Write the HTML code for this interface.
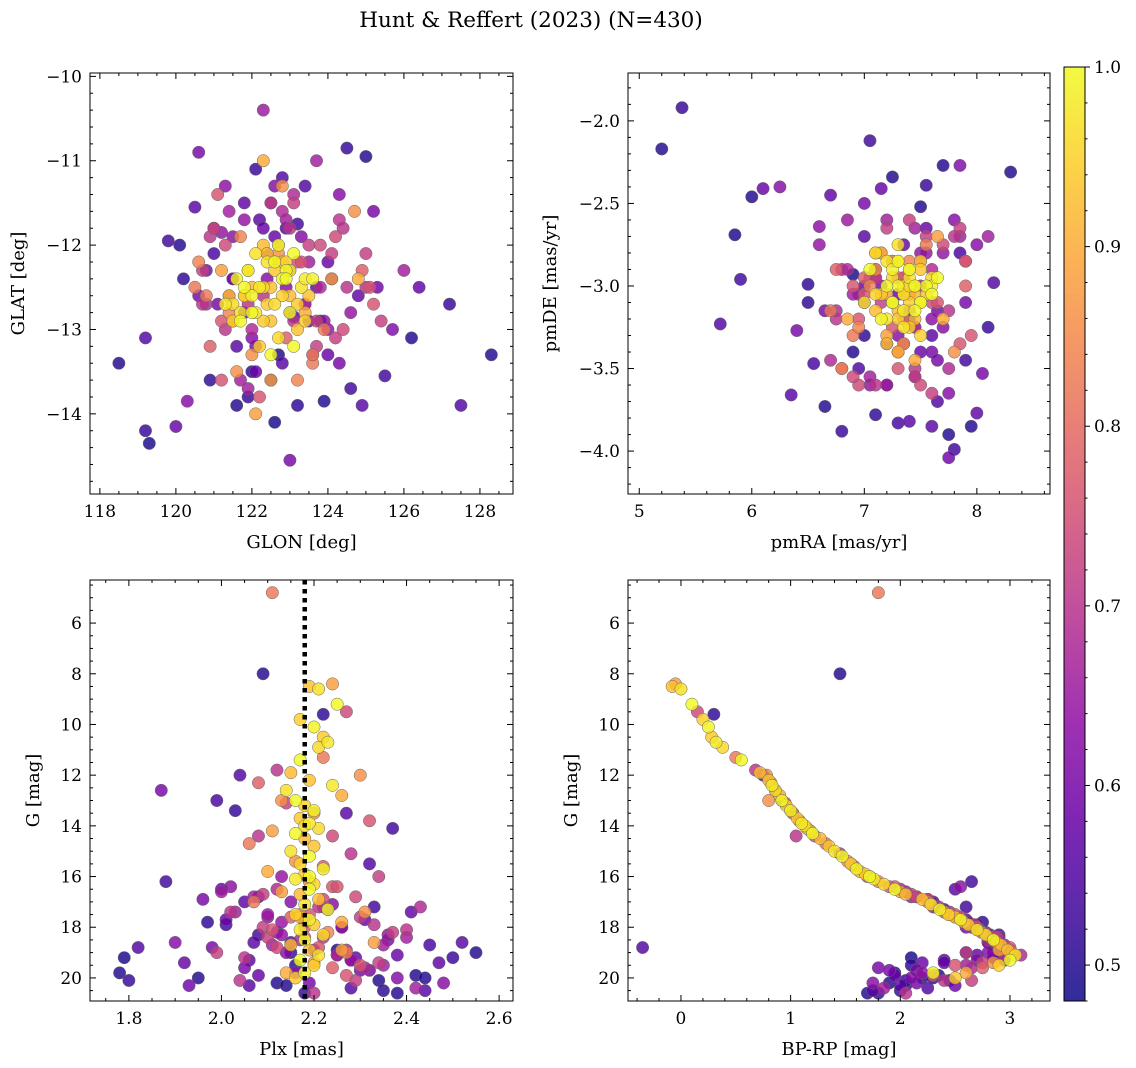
<!DOCTYPE html>
<html><head><meta charset="utf-8"><style>
body{margin:0;background:#fff}
svg{display:block;font-family:"DejaVu Serif","Liberation Serif",serif}
</style></head><body>
<svg id="fig" width="1136" height="1068" viewBox="0 0 1136 1068">
<text x="531" y="27" text-anchor="middle" font-size="21.5">Hunt &amp; Reffert (2023) (N=430)</text>
</svg>
<script>
// ---- data: high-probability members ----
const glonA=[122.5,122.1,123.0,121.8,122.9,122.3,123.4,121.5,122.7,122.0,123.2,122.4,121.7,122.8,123.6,122.2,121.9,122.6,123.1,121.4,122.5,123.3,122.0,122.9,121.6,122.4,123.0,122.7,121.8,122.3,123.5,122.1,122.6,121.5,122.8,123.2,122.2,121.9,122.5,123.0,122.4,121.7,122.9,123.4,122.0,122.6,121.3,122.3,123.1,122.8];
const glatA=[-12.5,-12.1,-12.8,-12.6,-12.3,-12.9,-12.4,-12.7,-12.0,-12.5,-13.0,-12.2,-12.9,-12.6,-12.4,-13.2,-12.3,-12.7,-12.1,-12.6,-12.9,-12.5,-12.8,-12.2,-12.4,-12.7,-12.3,-13.1,-12.5,-12.0,-12.6,-12.8,-12.2,-12.9,-12.4,-12.7,-12.5,-12.3,-13.3,-12.6,-12.1,-12.8,-12.4,-12.9,-12.6,-12.3,-12.7,-12.5,-13.2,-12.2];
const pmraA=[7.35,7.2,7.5,7.1,7.4,7.3,7.6,7.25,7.45,7.15,7.55,7.35,7.05,7.4,7.3,7.5,7.2,7.35,7.65,7.1,7.45,7.3,7.25,7.5,7.4,7.15,7.35,7.6,7.2,7.45,7.3,7.0,7.55,7.4,7.25,7.35,7.5,7.1,7.45,7.3,7.2,7.4,7.6,7.35,7.15,7.5,7.25,7.4,7.3,7.45];
const pmdeA=[-3.0,-2.85,-3.1,-3.05,-2.9,-3.2,-3.0,-2.95,-3.15,-2.8,-3.05,-3.25,-2.9,-3.1,-3.0,-2.85,-3.2,-3.05,-2.95,-3.15,-3.0,-2.75,-3.1,-3.3,-2.9,-3.05,-3.15,-2.95,-3.0,-3.2,-2.85,-3.1,-3.0,-3.25,-2.9,-3.05,-3.1,-2.8,-3.0,-3.15,-3.35,-2.95,-3.05,-3.0,-3.2,-2.9,-3.1,-3.0,-2.85,-3.05];
const plxA=[2.19,2.21,2.25,2.17,2.20,2.22,2.23,2.21,2.17,2.15,2.19,2.14,2.16,2.18,2.20,2.17,2.19,2.21,2.16,2.18,2.20,2.15,2.19,2.17,2.22,2.18,2.16,2.20,2.19,2.17,2.21,2.18,2.23,2.16,2.19,2.20,2.17,2.22,2.18,2.15,2.19,2.21,2.17,2.20,2.18,2.16,2.24,2.18,2.19,2.17];
const gA=[8.5,8.6,9.2,9.8,10.1,10.5,10.7,10.9,11.4,11.9,12.2,12.6,13.0,13.2,13.4,13.7,13.9,14.1,14.3,14.5,14.8,15.0,15.2,15.5,15.7,15.9,16.1,16.3,16.5,16.7,16.9,17.1,17.3,17.5,17.7,17.9,18.1,18.3,18.5,18.7,18.9,19.1,19.3,19.5,19.8,20.0,12.4,14.0,16.0,17.6];
const bprpA=[-0.08,0.0,0.1,0.2,0.25,0.28,0.32,0.38,0.55,0.72,0.8,0.86,0.92,0.96,1.0,1.06,1.1,1.15,1.2,1.27,1.35,1.4,1.47,1.55,1.6,1.68,1.76,1.85,1.95,2.05,2.2,2.28,2.36,2.44,2.55,2.62,2.7,2.78,2.85,2.92,2.98,3.05,3.0,2.9,2.3,2.5,0.83,1.13,1.72,2.5];
const probA=[0.93,0.97,1.0,0.95,0.99,0.94,0.98,0.96,1.0,0.92,0.93,0.97,1.0,0.95,0.99,0.94,0.98,0.96,1.0,0.92,0.93,0.97,1.0,0.95,0.99,0.94,0.98,0.96,1.0,0.92,0.93,0.97,1.0,0.95,0.99,0.94,0.98,0.96,1.0,0.92,0.93,0.97,1.0,0.95,0.99,0.94,0.98,0.96,1.0,0.92];
// ---- data: intermediate-probability members ----
const glonB=[121.2,123.8,120.8,124.3,122.0,121.5,124.8,123.1,120.6,125.2,122.5,121.0,123.9,124.5,122.8,120.9,123.4,125.0,121.7,122.2,124.1,121.3,123.6,120.7,124.7,122.9,121.8,125.4,123.2,121.1,122.6,124.4,120.5,123.0,121.6,124.9,122.3,123.7,121.4,125.1,122.1,124.2,123.6,121.9,122.7];
const glatB=[-12.3,-12.0,-12.6,-11.7,-13.3,-12.9,-12.4,-11.5,-12.2,-12.7,-13.6,-11.8,-13.0,-12.5,-11.3,-13.2,-12.8,-12.1,-11.9,-13.8,-12.4,-12.0,-13.4,-12.7,-11.6,-13.1,-12.6,-12.9,-13.6,-11.4,-12.2,-13.0,-12.5,-11.8,-13.5,-12.3,-11.0,-13.2,-12.8,-12.5,-14.0,-11.9,-13.3,-12.7,-12.1];
const pmraB=[7.1,7.6,6.9,7.8,7.3,7.0,7.7,7.4,6.8,7.9,7.2,6.95,7.55,7.75,7.35,6.75,7.45,7.85,7.05,7.25,7.65,6.9,7.5,7.15,7.8,7.3,6.85,7.6,7.4,7.0,7.2,7.7,6.7,7.45,7.1,7.9,7.3,7.55,6.95,7.65,7.25,7.5,7.35,7.05,7.4];
const pmdeB=[-2.8,-3.1,-3.3,-2.7,-3.4,-2.95,-3.2,-2.6,-3.5,-2.85,-3.05,-3.6,-2.75,-3.15,-3.35,-2.9,-3.45,-2.65,-3.0,-3.25,-2.7,-3.55,-3.1,-2.8,-3.4,-2.95,-3.2,-3.65,-2.85,-3.05,-3.3,-2.75,-3.15,-3.5,-2.9,-3.0,-3.4,-2.7,-3.25,-3.1,-2.85,-3.6,-3.2,-2.95,-3.05];
const plxB=[2.24,2.27,2.22,2.12,2.30,2.08,2.26,2.14,2.20,2.32,2.11,2.24,2.06,2.28,2.16,2.22,2.10,2.34,2.19,2.25,2.13,2.29,2.07,2.21,2.31,2.15,2.26,2.09,2.23,2.18,2.33,2.12,2.27,2.05,2.20,2.24,2.14,2.29,2.17,2.11,2.26,2.22,2.11,2.08,2.13];
const gB=[8.4,9.5,11.3,11.8,12.0,12.3,12.8,13.1,13.5,13.8,14.2,14.4,14.7,15.1,15.4,15.6,15.8,16.0,16.2,16.4,16.6,16.8,17.0,17.2,17.4,17.6,17.8,18.0,18.2,18.4,18.6,18.8,19.0,19.2,19.4,19.6,19.8,20.1,17.5,18.1,18.9,16.9,4.8,14.4,13.0];
const bprpB=[-0.05,0.15,0.5,0.68,0.78,0.82,0.9,0.95,1.02,1.08,1.18,1.22,1.32,1.45,1.52,1.58,1.63,1.7,1.8,1.9,2.0,2.15,2.25,2.32,2.4,2.5,2.58,2.66,2.74,2.82,2.88,2.96,3.02,2.95,2.85,2.75,2.6,2.65,2.45,2.7,2.9,2.25,1.8,1.05,0.8];
const probB=[0.88,0.74,0.82,0.7,0.86,0.78,0.9,0.72,0.84,0.76,0.88,0.74,0.82,0.7,0.86,0.78,0.9,0.72,0.84,0.76,0.88,0.74,0.82,0.7,0.86,0.78,0.9,0.72,0.84,0.76,0.88,0.74,0.82,0.7,0.86,0.78,0.9,0.72,0.84,0.76,0.88,0.74,0.82,0.7,0.86];
// ---- data: low-probability members ----
const glonC=[118.5,119.2,119.2,119.3,119.8,120.0,120.1,120.3,120.5,120.6,120.9,121.0,121.3,121.6,121.8,122.1,122.3,122.6,122.8,123.0,123.2,123.2,123.5,123.7,123.9,124.1,124.3,124.5,124.9,125.0,125.3,125.5,125.7,126.2,126.4,127.2,127.5,128.3,121.2,122.0,122.9,123.8,124.6,125.2,120.8,121.9,123.4,124.0,122.5,121.5,123.1,124.8,120.2,126.0,122.7];
const glatC=[-13.4,-14.2,-13.1,-14.35,-11.95,-14.15,-12.0,-13.85,-11.55,-10.9,-13.6,-12.1,-11.3,-13.9,-11.5,-11.1,-10.4,-14.1,-11.2,-14.55,-11.75,-13.9,-12.9,-11.0,-13.85,-12.4,-11.4,-10.85,-13.9,-10.95,-12.5,-13.55,-13.0,-13.1,-12.5,-12.7,-13.9,-13.3,-11.85,-13.5,-11.8,-12.9,-13.7,-11.6,-12.7,-13.8,-11.3,-12.2,-13.6,-11.9,-12.85,-12.6,-12.4,-12.3,-13.3];
const pmraC=[5.2,5.38,5.72,5.85,5.9,6.1,6.0,6.25,6.35,6.4,6.5,6.55,6.6,6.65,6.7,6.8,6.85,6.9,6.95,7.0,7.05,7.1,7.15,7.2,7.25,7.3,7.45,7.55,7.6,7.7,7.75,7.8,7.85,7.95,8.0,8.1,8.15,8.3,6.6,7.0,7.4,7.5,7.9,8.05,6.75,7.1,7.65,7.3,6.9,7.6,7.85,7.2,6.5,7.45,7.75];
const pmdeC=[-2.17,-1.92,-3.23,-2.69,-2.96,-2.41,-2.46,-2.4,-3.66,-3.27,-2.99,-3.47,-2.64,-3.73,-2.45,-3.88,-2.6,-2.93,-3.5,-2.5,-2.12,-3.78,-2.41,-3.6,-2.34,-3.83,-3.55,-2.39,-3.85,-2.27,-4.04,-3.99,-2.27,-3.85,-3.77,-3.25,-2.98,-2.31,-2.75,-3.3,-3.82,-2.52,-3.45,-3.53,-3.15,-2.9,-3.7,-3.05,-3.4,-3.2,-2.8,-3.6,-3.1,-2.65,-3.9];
const plxC=[1.78,1.80,1.82,1.79,1.88,1.92,1.95,1.90,2.0,2.05,1.97,2.08,2.02,2.12,2.06,2.15,2.10,2.25,2.28,2.30,2.33,2.35,2.38,2.40,2.42,2.45,2.48,2.50,2.52,2.55,1.93,2.01,2.36,2.44,2.47,2.03,2.32,2.38,2.13,2.22,2.27,2.09,2.37,1.87,2.43,2.18,2.04,2.31,2.14,2.26,1.99,2.41,2.16,2.07,2.34];
const gC=[19.8,20.1,18.8,19.2,16.2,19.4,20.0,18.6,16.5,19.6,17.8,18.3,16.4,20.2,19.3,19.0,17.5,18.9,20.4,19.7,17.2,20.5,19.1,18.4,19.9,18.7,20.2,19.2,18.6,19.0,20.3,17.9,18.5,20.0,19.4,13.4,15.5,20.6,16.0,9.6,13.5,8.0,14.1,12.6,17.2,20.6,12.0,17.7,20.3,18.0,13.0,17.4,19.5,16.8,20.1];
const bprpC=[1.95,2.05,-0.35,2.1,2.65,2.2,2.3,2.8,2.5,1.8,2.75,2.9,2.55,1.9,2.4,2.85,2.45,2.95,2.25,2.15,2.6,2.0,2.7,2.9,2.35,2.85,1.75,2.95,2.8,2.6,2.5,2.7,2.85,2.2,2.4,1.0,1.55,1.7,1.72,0.3,1.02,1.45,1.15,0.86,2.3,1.8,0.75,2.55,2.05,2.65,0.92,2.4,2.1,2.1,2.45];
const probC=[0.5,0.52,0.55,0.49,0.53,0.58,0.5,0.62,0.56,0.6,0.51,0.54,0.63,0.5,0.57,0.52,0.65,0.49,0.55,0.6,0.53,0.51,0.58,0.66,0.5,0.54,0.62,0.52,0.56,0.5,0.59,0.53,0.61,0.5,0.57,0.52,0.55,0.5,0.64,0.51,0.56,0.5,0.53,0.6,0.68,0.52,0.55,0.58,0.5,0.63,0.54,0.57,0.51,0.66,0.5];
// ---- data: faint mid-probability members ----
const glonD=[121.0,121.5,122.0,122.5,123.0,123.5,124.0,121.2,121.8,122.3,122.8,123.3,123.8,124.2,120.8,121.4,122.1,122.7,123.4,124.4,121.6,122.4,123.1,123.7,120.6,121.9,122.6,123.2,124.6,121.3,122.2,122.9,123.6,124.1,121.1,121.7,122.5,123.0,123.9,120.9,121.5,122.0,122.8,123.5,124.3,121.4,122.3,123.3,124.0,125.0,121.8,122.6,123.4,120.7,122.1,122.9,123.7,121.2,122.4,123.1];
const glatD=[-11.8,-12.4,-13.0,-11.5,-12.8,-12.2,-13.3,-12.9,-11.7,-12.6,-13.4,-11.9,-12.5,-13.1,-12.3,-11.6,-13.5,-12.0,-12.7,-11.8,-13.2,-12.4,-11.4,-12.9,-12.6,-13.7,-11.9,-12.2,-12.8,-13.0,-11.7,-12.5,-13.3,-12.1,-12.7,-13.6,-11.5,-12.3,-12.9,-11.9,-12.4,-13.1,-11.6,-12.0,-13.4,-12.6,-11.8,-12.2,-13.0,-12.5,-12.8,-11.3,-12.7,-12.3,-13.2,-11.7,-12.5,-13.6,-12.1,-12.9];
const pmraD=[7.0,7.3,7.6,6.8,7.9,7.2,7.5,6.9,7.7,7.1,7.4,8.0,6.7,7.35,7.65,7.05,7.55,7.85,6.95,7.25,7.45,7.75,6.85,7.15,7.6,8.1,7.0,7.3,7.5,6.75,7.2,7.8,7.4,7.1,7.65,6.9,7.35,7.95,7.05,7.5,7.25,7.7,6.8,7.45,7.15,7.85,7.3,6.95,7.55,7.4,7.6,7.1,7.75,7.2,6.65,7.5,7.35,7.9,7.0,7.45];
const pmdeD=[-2.7,-3.3,-2.9,-3.5,-3.1,-2.6,-3.4,-3.0,-2.8,-3.6,-3.2,-2.75,-3.45,-2.95,-3.15,-3.55,-2.65,-3.35,-3.05,-2.85,-3.25,-3.65,-2.9,-3.1,-3.4,-2.7,-3.0,-3.5,-2.8,-3.2,-3.35,-2.6,-3.15,-2.95,-3.45,-3.05,-2.75,-3.3,-3.6,-2.85,-3.1,-3.25,-2.9,-3.55,-3.0,-2.7,-3.4,-3.2,-2.8,-3.05,-3.3,-2.95,-3.5,-2.65,-3.15,-3.0,-3.35,-2.85,-3.1,-3.25];
const plxD=[2.05,2.12,2.25,2.30,1.98,2.35,2.08,2.18,2.28,2.02,2.15,2.38,2.22,2.10,2.32,2.00,2.20,2.27,2.13,2.40,2.06,2.24,2.17,2.34,1.96,2.11,2.29,2.19,2.36,2.04,2.23,2.14,2.31,2.09,2.26,2.42,2.01,2.21,2.16,2.33,2.07,2.28,2.12,2.37,2.19,2.03,2.25,2.30,2.10,2.22,2.44,2.15,2.27,1.99,2.18,2.35,2.08,2.24,2.13,2.20];
const gD=[17.0,18.2,19.1,17.6,18.8,19.5,16.8,18.0,19.3,17.4,18.6,20.0,17.2,18.4,19.7,16.6,18.9,19.9,17.8,18.1,20.3,17.1,18.5,19.4,16.9,18.7,19.2,17.5,18.3,20.1,17.3,19.0,19.6,16.7,18.0,20.4,17.7,18.8,19.8,17.9,18.6,19.3,16.5,18.2,20.2,17.4,19.1,19.5,17.6,18.4,20.5,17.0,18.9,19.0,17.8,18.7,19.9,16.4,18.3,20.6];
const bprpD=[2.3,2.78,3.1,2.55,2.9,2.6,2.15,2.7,2.95,2.45,2.85,2.1,2.35,2.88,1.9,2.05,3.0,2.3,2.62,2.72,2.0,2.3,2.8,2.75,2.25,2.95,2.85,2.5,2.82,2.4,2.4,2.8,2.65,2.1,2.6,1.85,2.6,3.0,2.2,2.68,2.9,2.7,2.0,2.75,2.15,2.42,2.9,2.5,2.52,2.85,1.75,2.28,2.95,2.6,2.6,2.88,1.95,1.95,2.8,2.05];
const probD=[0.56,0.62,0.68,0.72,0.6,0.66,0.58,0.76,0.64,0.7,0.56,0.62,0.68,0.72,0.6,0.66,0.58,0.76,0.64,0.7,0.56,0.62,0.68,0.72,0.6,0.66,0.58,0.76,0.64,0.7,0.56,0.62,0.68,0.72,0.6,0.66,0.58,0.76,0.64,0.7,0.56,0.62,0.68,0.72,0.6,0.66,0.58,0.76,0.64,0.7,0.56,0.62,0.68,0.72,0.6,0.66,0.58,0.76,0.64,0.7];
const plxMean=2.18;
const cbTicks=[0.5,0.6,0.7,0.8,0.9,1.0];

const glon=glonC.concat(glonD,glonB,glonA), glat=glatC.concat(glatD,glatB,glatA);
const pmra=pmraC.concat(pmraD,pmraB,pmraA), pmde=pmdeC.concat(pmdeD,pmdeB,pmdeA);
const plx=plxC.concat(plxD,plxB,plxA), gmag=gC.concat(gD,gB,gA), bprp=bprpC.concat(bprpD,bprpB,bprpA);
const prob=probC.concat(probD,probB,probA);

const NS="http://www.w3.org/2000/svg";
const svg=document.getElementById('fig');
function mk(tag,attrs,parent){const e=document.createElementNS(NS,tag);for(const k in attrs)e.setAttribute(k,attrs[k]);(parent||svg).appendChild(e);return e;}
const stops=[[13,8,135],[65,4,157],[106,0,168],[143,13,164],[177,42,144],[204,71,120],[225,100,98],[242,132,75],[252,166,54],[252,206,37],[240,249,33]];
const vmin=0.48,vmax=1.0;
function plasma(v){let t=(v-vmin)/(vmax-vmin);t=Math.max(0,Math.min(1,t))*10;const i=Math.min(9,Math.floor(t)),f=t-i;const a=stops[i],b=stops[i+1];return 'rgb('+a.map((c,k)=>Math.round(c+(b[k]-c)*f)).join(',')+')';}
function fmt(v,d){const s=v.toFixed(d);return s.replace('-','\u2212');}
const TF=17, LF=18;

function panel(o){
  const g=mk('g',{});
  
  
  const sx=v=>o.x0+(v-o.xmin)/(o.xmax-o.xmin)*(o.x1-o.x0);
  const sy=v=>o.y1-(v-o.ymin)/(o.ymax-o.ymin)*(o.y1-o.y0);
  const clipId='c'+o.name;
  const cp=mk('clipPath',{id:clipId},g);mk('rect',{x:o.x0,y:o.y0,width:o.x1-o.x0,height:o.y1-o.y0},cp);
  const pts=mk('g',{'clip-path':'url(#'+clipId+')'},g);
  const idx=o.xs.map((_,i)=>i).sort((a,b)=>prob[a]-prob[b]);
  idx.forEach(i=>{
    const c=mk('circle',{cx:sx(o.xs[i]),cy:sy(o.ys[i]),r:6.2,fill:plasma(prob[i]),'fill-opacity':0.82,stroke:'#666','stroke-width':0.5},pts);
    
    
  });
  if(o.vline!==undefined){
    const l=mk('line',{x1:sx(o.vline),x2:sx(o.vline),y1:o.y0,y2:o.y1,stroke:'#000','stroke-width':4.5,'stroke-dasharray':'4.5,4.5'},pts);
    
    
  }
  const fr=mk('rect',{x:o.x0,y:o.y0,width:o.x1-o.x0,height:o.y1-o.y0,fill:'none',stroke:'#000','stroke-width':1},g);
  
  
  const eps=1e-9;
  for(let v=Math.ceil(o.xmin/o.xmn-eps)*o.xmn;v<=o.xmax+eps;v+=o.xmn){
    const X=sx(v);const isMaj=Math.abs(v/o.xmj-Math.round(v/o.xmj))<1e-6;const L=isMaj?6:3;
    mk('line',{x1:X,x2:X,y1:o.y1,y2:o.y1-L,stroke:'#000','stroke-width':1},g);
    mk('line',{x1:X,x2:X,y1:o.y0,y2:o.y0+L,stroke:'#000','stroke-width':1},g);
    if(isMaj){const t=mk('text',{x:X,y:o.y1+23,'text-anchor':'middle','font-size':TF},g);t.textContent=fmt(v,o.xd);
      }
  }
  for(let v=Math.ceil(o.ymin/o.ymn-eps)*o.ymn;v<=o.ymax+eps;v+=o.ymn){
    const Y=sy(v);const isMaj=Math.abs(v/o.ymj-Math.round(v/o.ymj))<1e-6;const L=isMaj?6:3;
    mk('line',{x1:o.x0,x2:o.x0+L,y1:Y,y2:Y,stroke:'#000','stroke-width':1},g);
    mk('line',{x1:o.x1,x2:o.x1-L,y1:Y,y2:Y,stroke:'#000','stroke-width':1},g);
    if(isMaj){const t=mk('text',{x:o.x0-8,y:Y+6,'text-anchor':'end','font-size':TF},g);t.textContent=fmt(o.ylab?o.ylab(v):v,o.yd);
      }
  }
  const xl=mk('text',{x:(o.x0+o.x1)/2,y:o.y1+54,'text-anchor':'middle','font-size':LF},g);xl.textContent=o.xlabel;
  
  const yc=(o.y0+o.y1)/2;
  const yl=mk('text',{x:o.ylx,y:yc,'text-anchor':'middle','font-size':LF,transform:'rotate(-90 '+o.ylx+' '+yc+')'},g);yl.textContent=o.ylabel;
  
}
const negG=gmag.map(v=>-v);
panel({name:'sky-panel',x0:90,x1:513,y0:73,y1:494,xmin:117.74,xmax:128.87,ymin:-14.95,ymax:-9.96,xs:glon,ys:glat,xmj:2,xmn:0.5,ymj:1,ymn:0.2,xd:0,yd:0,xlabel:'GLON [deg]',ylabel:'GLAT [deg]',ylx:24});
panel({name:'proper-motion-panel',x0:628,x1:1050,y0:73,y1:494,xmin:4.90,xmax:8.65,ymin:-4.26,ymax:-1.71,xs:pmra,ys:pmde,xmj:1,xmn:0.2,ymj:0.5,ymn:0.1,xd:0,yd:1,xlabel:'pmRA [mas/yr]',ylabel:'pmDE [mas/yr]',ylx:556});
panel({name:'parallax-panel',x0:90,x1:513,y0:580,y1:1001,xmin:1.716,xmax:2.630,ymin:-20.91,ymax:-4.30,xs:plx,ys:negG,xmj:0.2,xmn:0.05,ymj:2,ymn:0.5,xd:1,yd:0,ylab:v=>-v,xlabel:'Plx [mas]',ylabel:'G [mag]',ylx:39,vline:plxMean});
panel({name:'cmd-panel',x0:628,x1:1050,y0:580,y1:1001,xmin:-0.483,xmax:3.365,ymin:-20.91,ymax:-4.30,xs:bprp,ys:negG,xmj:1,xmn:0.2,ymj:2,ymn:0.5,xd:0,yd:0,ylab:v=>-v,xlabel:'BP-RP [mag]',ylabel:'G [mag]',ylx:577});

const cb=mk('g',{});


const defs=mk('defs',{},cb);const lg=mk('linearGradient',{id:'cbg',x1:0,y1:1,x2:0,y2:0},defs);
for(let k=0;k<=20;k++){const v=vmin+(vmax-vmin)*k/20;mk('stop',{offset:k/20,'stop-color':plasma(v),'stop-opacity':0.85},lg);}
const cy0=67,cy1=1001,cx0=1064,cx1=1085;
mk('rect',{x:cx0,y:cy0,width:cx1-cx0,height:cy1-cy0,fill:'url(#cbg)',stroke:'#000','stroke-width':1},cb);
const cby=v=>cy1-(v-vmin)/(vmax-vmin)*(cy1-cy0);
for(let v=0.48;v<=1.0001;v+=0.02){const Y=cby(v);const maj=Math.abs(v*10-Math.round(v*10))<1e-6;
  mk('line',{x1:cx1,x2:cx1+(maj?5:2.5),y1:Y,y2:Y,stroke:'#000','stroke-width':1},cb);}
cbTicks.forEach(v=>{const t=mk('text',{x:cx1+9,y:cby(v)+6,'font-size':TF},cb);t.textContent=v.toFixed(1);
  });
</script>
</body></html>
